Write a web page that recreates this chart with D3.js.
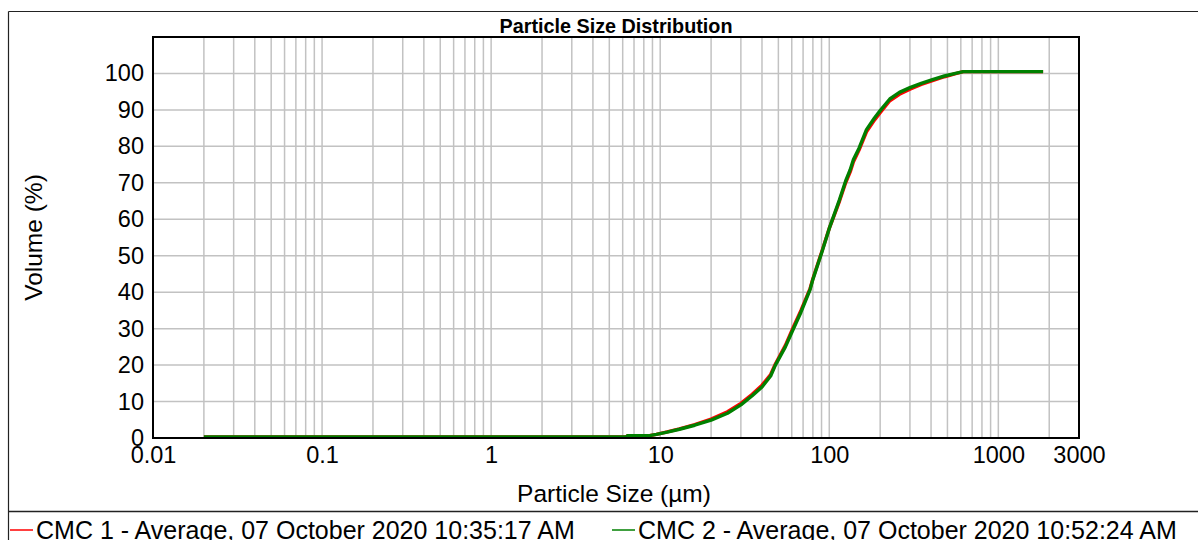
<!DOCTYPE html>
<html>
<head>
<meta charset="utf-8">
<script src="https://cdn.jsdelivr.net/npm/d3@7"></script>
<style>
  html, body { margin: 0; padding: 0; background: #fff; }
  svg { display: block; font-family: Arial, "Liberation Sans", sans-serif; }
</style>
</head>
<body>
<svg id="chart" width="1198" height="540"></svg>
<script>
// Particle sizes (µm) at which the cumulative volume curves are sampled
const sizes = [0.02, 0.5, 6.3, 6.4, 8.5, 9.5, 11, 13, 16, 20, 25, 30, 35, 40, 45, 48,
  55, 61, 68, 77, 80, 90, 100, 106, 115, 125, 133, 139, 150, 166, 185, 200, 228,
  260, 300, 350, 412, 480, 566, 620, 1000, 1840];

// Cumulative volume (%) for each measurement
const cmc1 = [0.3, 0.3, 0.3, 0.6, 0.6, 1.0, 1.7, 2.5, 3.7, 5.2, 7.2, 9.5, 12.0, 14.5, 17.4, 20.3,
  25.4, 30.2, 35.0, 41.0, 43.7, 50.9, 57.5, 60.6, 65.0, 70.0, 73.0, 75.8, 79.0, 84.0, 87.2, 89.2, 92.5,
  94.3, 95.7, 97.0, 98.1, 99.1, 100.0, 100.5, 100.5, 100.5];
const cmc2 = [0.3, 0.3, 0.3, 0.6, 0.6, 1.0, 1.6, 2.4, 3.5, 4.9, 6.8, 9.1, 11.6, 14.0, 17.0, 20.0,
  25.0, 29.7, 34.5, 40.7, 43.5, 50.7, 57.5, 60.8, 65.4, 70.5, 73.6, 76.4, 79.5, 84.6, 87.8, 89.8, 93.0,
  94.8, 96.1, 97.3, 98.4, 99.3, 100.1, 100.5, 100.5, 100.5];

const seriesNames = [
  "CMC 1 - Average, 07 October 2020 10:35:17 AM",
  "CMC 2 - Average, 07 October 2020 10:52:24 AM"
];
const seriesColors = ["#ff0000", "#008000"];

const xTickValues = [0.01, 0.1, 1, 10, 100, 1000, 3000];
const xTickLabels = ["0.01", "0.1", "1", "10", "100", "1000", "3000"];
const yTickValues = [0, 10, 20, 30, 40, 50, 60, 70, 80, 90, 100];

const svg = d3.select("#chart");
const W = 1198, H = 540;
const plot = { left: 153, right: 1079, top: 37, bottom: 438 };

const x = d3.scaleLog().domain([0.01, 3000]).range([plot.left, plot.right]);
const y = d3.scaleLinear().domain([0, 110]).range([plot.bottom, plot.top]);

// outer frame and legend separator
svg.append("line").attr("x1", 8.5).attr("x2", W).attr("y1", 11.5).attr("y2", 11.5)
  .attr("stroke", "#222").attr("stroke-width", 1.2);
svg.append("line").attr("x1", 8.5).attr("x2", 8.5).attr("y1", 11.5).attr("y2", H)
  .attr("stroke", "#222").attr("stroke-width", 1.2);
svg.append("line").attr("x1", 8.5).attr("x2", W).attr("y1", 511.5).attr("y2", 511.5)
  .attr("stroke", "#222").attr("stroke-width", 1.4);

// title
svg.append("text").attr("x", (plot.left + plot.right) / 2).attr("y", 33)
  .attr("text-anchor", "middle").attr("font-size", 19.8).attr("font-weight", "bold")
  .text("Particle Size Distribution");

// vertical gridlines at every 1..9 x 10^k
const gridX = [];
for (let e = -2; e <= 3; e++) {
  for (let m = 1; m <= 9; m++) {
    const v = m * Math.pow(10, e);
    if (v > 0.01 * 1.0001 && v < 3000) gridX.push(v);
  }
}
const grid = svg.append("g").attr("stroke", "#c2c2c2").attr("stroke-width", 1.5);
grid.selectAll("line.gx").data(gridX).join("line").attr("class", "gx")
  .attr("x1", d => x(d)).attr("x2", d => x(d))
  .attr("y1", plot.top).attr("y2", plot.bottom);
grid.selectAll("line.gy").data(yTickValues.filter(d => d > 0)).join("line").attr("class", "gy")
  .attr("x1", plot.left).attr("x2", plot.right)
  .attr("y1", d => y(d)).attr("y2", d => y(d));

// axes (labels only; the frame is drawn as a rectangle)
const xAxis = d3.axisBottom(x).tickValues(xTickValues)
  .tickFormat((d, i) => xTickLabels[i]).tickSize(0).tickPadding(8);
const gx = svg.append("g").attr("transform", `translate(0,${plot.bottom})`).call(xAxis);
gx.select(".domain").remove();
gx.selectAll("text").attr("font-size", 23.5).attr("fill", "#000")
  .attr("font-family", "Arial, 'Liberation Sans', sans-serif");

const yAxis = d3.axisLeft(y).tickValues(yTickValues).tickSize(0).tickPadding(9);
const gy = svg.append("g").attr("transform", `translate(${plot.left},0)`).call(yAxis);
gy.select(".domain").remove();
gy.selectAll("text").attr("font-size", 23.5).attr("fill", "#000")
  .attr("font-family", "Arial, 'Liberation Sans', sans-serif");

// curves
const line = d3.line().x(d => x(d[0])).y(d => y(d[1]));
[cmc1, cmc2].forEach((vals, i) => {
  svg.append("path")
    .datum(sizes.map((s, j) => [s, vals[j]]))
    .attr("fill", "none")
    .attr("stroke", seriesColors[i])
    .attr("stroke-width", 3.4)
    .attr("stroke-linejoin", "round")
    .attr("d", line);
});

// plot frame
svg.append("rect").attr("x", plot.left).attr("y", plot.top)
  .attr("width", plot.right - plot.left).attr("height", plot.bottom - plot.top)
  .attr("fill", "none").attr("stroke", "#000").attr("stroke-width", 2);

// axis titles
svg.append("text").attr("x", 614).attr("y", 502).attr("text-anchor", "middle")
  .attr("font-size", 24.5).text("Particle Size (µm)");
svg.append("text")
  .attr("transform", `translate(42,${(plot.top + plot.bottom) / 2}) rotate(-90)`)
  .attr("text-anchor", "middle").attr("font-size", 24.5).text("Volume (%)");

// legend
const legendX = [10, 612];
seriesNames.forEach((name, i) => {
  svg.append("line").attr("x1", legendX[i]).attr("x2", legendX[i] + 23)
    .attr("y1", 530).attr("y2", 530).attr("stroke", seriesColors[i]).attr("stroke-width", 1.5);
  svg.append("text").attr("x", legendX[i] + 26).attr("y", 538.5)
    .attr("font-size", 25).text(name);
});
</script>
</body>
</html>
